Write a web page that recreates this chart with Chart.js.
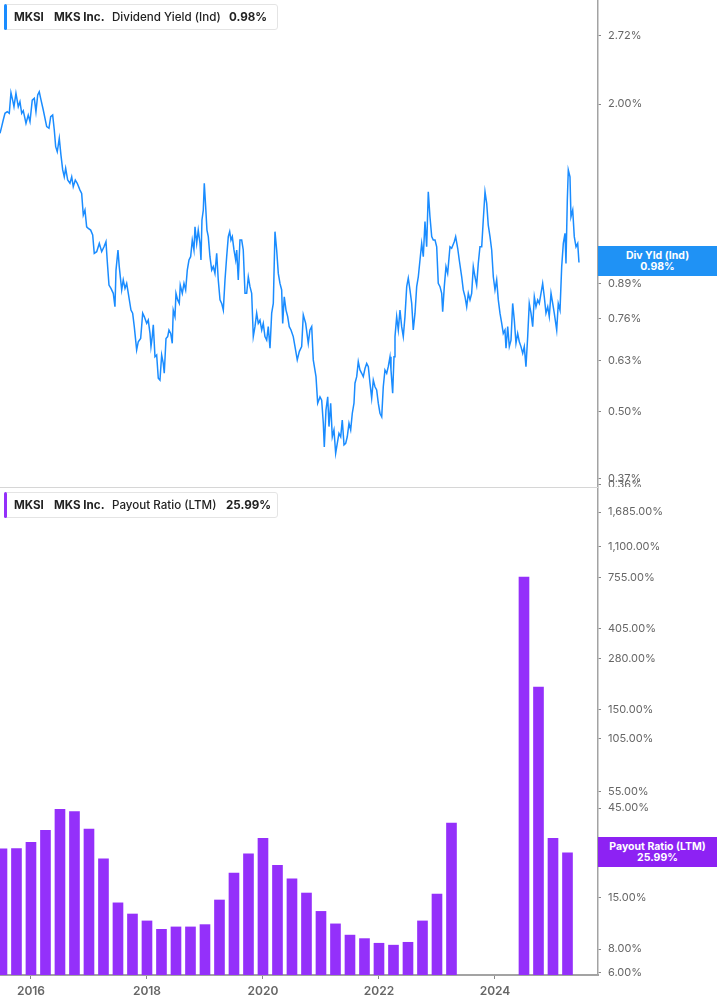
<!DOCTYPE html>
<html>
<head>
<meta charset="utf-8">
<title>MKSI dividend yield and payout ratio</title>
<script src="https://cdn.jsdelivr.net/npm/chart.js@4.4.1/dist/chart.umd.min.js"></script>
<style>
  body { margin: 0; background: #fff; font-family: Inter, "Noto Sans", sans-serif; }
  #wrap { position: relative; width: 717px; height: 1005px; overflow: hidden; }
  canvas { position: absolute; left: 0; }
  .legend { position: absolute; left: 4px; width: 274px; height: 26px; box-sizing: border-box;
            border: 1px solid #e4e4e4; border-radius: 3px; background: #fff; font-size: 11.6px; color: #222; }
  .legend .mark { position: absolute; left: -1px; top: -1px; bottom: -1px; width: 3px; border-radius: 2px; }
  .legend span { position: absolute; top: 5px; white-space: nowrap; line-height: 14px; }
  .legend .b { font-weight: 700; }
  .legend .m { font-weight: 500; }
  .tag { position: absolute; left: 598px; width: 119px; height: 30px; box-sizing: border-box; padding-top: 4px;
         color: #fff; font-weight: 700; font-size: 10.5px; line-height: 11px; text-align: center; }
  .divider { position: absolute; left: 0; top: 487px; width: 598px; height: 1px; background: #d6d6d6; }
</style>
</head>
<body>
<div id="wrap">
  <canvas id="yieldChart" width="717" height="487" style="top:0"></canvas>
  <canvas id="payoutChart" width="717" height="518" style="top:487px"></canvas>
  <div class="divider"></div>

  <div class="legend" style="top:4px">
    <div class="mark" style="background:#1a8cff"></div>
    <span class="b" style="left:9px">MKSI</span>
    <span class="b" style="left:49px">MKS Inc.</span>
    <span class="m" style="left:107px">Dividend Yield (Ind)</span>
    <span class="b" style="left:224px">0.98%</span>
  </div>
  <div class="legend" style="top:492px">
    <div class="mark" style="background:#9430fa"></div>
    <span class="b" style="left:9px">MKSI</span>
    <span class="b" style="left:49px">MKS Inc.</span>
    <span class="m" style="left:107px">Payout Ratio (LTM)</span>
    <span class="b" style="left:221px">25.99%</span>
  </div>

  <div class="tag" style="top:246px;background:#1f92f5">Div Yld (Ind)<br>0.98%</div>
  <div class="tag" style="top:837px;background:#8d22f3">Payout Ratio (LTM)<br>25.99%</div>
</div>

<script>
// dividend yield (ind), %
const yieldDates = [
  2015.466, 2015.495, 2015.522, 2015.552, 2015.591, 2015.626, 2015.655, 2015.684, 2015.707, 2015.741,
  2015.781, 2015.810, 2015.840, 2015.867, 2015.914, 2015.953, 2015.983, 2016.022, 2016.057, 2016.086,
  2016.116, 2016.143, 2016.167, 2016.212, 2016.271, 2016.310, 2016.340, 2016.374, 2016.402, 2016.426,
  2016.453, 2016.488, 2016.517, 2016.547, 2016.574, 2016.598, 2016.633, 2016.672, 2016.702, 2016.729,
  2016.764, 2016.798, 2016.845, 2016.874, 2016.902, 2016.931, 2016.960, 2016.988, 2017.029, 2017.064,
  2017.091, 2017.133, 2017.178, 2017.219, 2017.259, 2017.293, 2017.316, 2017.345, 2017.379, 2017.419,
  2017.448, 2017.466, 2017.500, 2017.522, 2017.564, 2017.591, 2017.621, 2017.650, 2017.678, 2017.724,
  2017.753, 2017.781, 2017.822, 2017.850, 2017.891, 2017.926, 2017.953, 2017.995, 2018.022, 2018.052,
  2018.069, 2018.091, 2018.109, 2018.138, 2018.167, 2018.195, 2018.224, 2018.253, 2018.281, 2018.298,
  2018.328, 2018.357, 2018.379, 2018.409, 2018.436, 2018.453, 2018.483, 2018.500, 2018.529, 2018.557,
  2018.574, 2018.609, 2018.638, 2018.667, 2018.695, 2018.724, 2018.753, 2018.781, 2018.810, 2018.828,
  2018.857, 2018.884, 2018.914, 2018.931, 2018.948, 2018.971, 2018.988, 2019.012, 2019.034, 2019.057,
  2019.086, 2019.116, 2019.143, 2019.172, 2019.202, 2019.229, 2019.259, 2019.288, 2019.316, 2019.345,
  2019.374, 2019.402, 2019.426, 2019.448, 2019.471, 2019.500, 2019.529, 2019.547, 2019.574, 2019.603,
  2019.633, 2019.660, 2019.690, 2019.719, 2019.747, 2019.776, 2019.805, 2019.833, 2019.862, 2019.891,
  2019.919, 2019.948, 2019.978, 2020.005, 2020.034, 2020.064, 2020.091, 2020.121, 2020.150, 2020.178,
  2020.207, 2020.236, 2020.264, 2020.293, 2020.322, 2020.340, 2020.367, 2020.397, 2020.426, 2020.453,
  2020.483, 2020.522, 2020.552, 2020.591, 2020.626, 2020.667, 2020.695, 2020.736, 2020.781, 2020.810,
  2020.840, 2020.867, 2020.914, 2020.943, 2020.983, 2021.012, 2021.040, 2021.057, 2021.086, 2021.116,
  2021.138, 2021.167, 2021.195, 2021.224, 2021.253, 2021.281, 2021.310, 2021.340, 2021.367, 2021.397,
  2021.426, 2021.453, 2021.483, 2021.512, 2021.540, 2021.569, 2021.586, 2021.616, 2021.643, 2021.672,
  2021.702, 2021.729, 2021.759, 2021.788, 2021.816, 2021.845, 2021.874, 2021.902, 2021.931, 2021.960,
  2021.988, 2022.017, 2022.047, 2022.074, 2022.103, 2022.133, 2022.160, 2022.190, 2022.207, 2022.236,
  2022.259, 2022.276, 2022.305, 2022.333, 2022.362, 2022.391, 2022.419, 2022.448, 2022.478, 2022.505,
  2022.534, 2022.564, 2022.591, 2022.621, 2022.650, 2022.678, 2022.707, 2022.736, 2022.764, 2022.793,
  2022.822, 2022.850, 2022.879, 2022.909, 2022.936, 2022.966, 2022.995, 2023.022, 2023.052, 2023.081,
  2023.098, 2023.126, 2023.155, 2023.184, 2023.224, 2023.253, 2023.298, 2023.322, 2023.357, 2023.384,
  2023.426, 2023.453, 2023.483, 2023.512, 2023.540, 2023.569, 2023.598, 2023.626, 2023.655, 2023.684,
  2023.712, 2023.741, 2023.771, 2023.798, 2023.828, 2023.857, 2023.884, 2023.914, 2023.943, 2023.971,
  2024.000, 2024.029, 2024.057, 2024.086, 2024.116, 2024.143, 2024.172, 2024.190, 2024.219, 2024.247,
  2024.276, 2024.305, 2024.333, 2024.362, 2024.391, 2024.419, 2024.448, 2024.478, 2024.505, 2024.534,
  2024.564, 2024.591, 2024.621, 2024.650, 2024.678, 2024.707, 2024.736, 2024.764, 2024.793, 2024.822,
  2024.850, 2024.879, 2024.909, 2024.936, 2024.966, 2024.995, 2025.022, 2025.064, 2025.091, 2025.121,
  2025.150, 2025.178, 2025.207, 2025.224, 2025.247, 2025.264, 2025.293, 2025.310, 2025.340, 2025.367,
  2025.397, 2025.426, 2025.448
];
const yieldValues = [
  1.754, 1.807, 1.862, 1.919, 1.933, 1.919, 2.106, 2.037, 1.977, 2.100,
  1.977, 2.022, 1.919, 1.942, 1.835, 1.904, 1.848, 2.037, 2.053, 1.933,
  2.084, 2.115, 2.053, 1.948, 1.807, 1.794, 1.890, 1.904, 1.780, 1.651,
  1.614, 1.715, 1.590, 1.487, 1.442, 1.498, 1.421, 1.400, 1.442, 1.379,
  1.421, 1.400, 1.358, 1.338, 1.214, 1.241, 1.151, 1.143, 1.134, 1.109,
  1.021, 1.029, 1.068, 1.029, 1.052, 1.076, 0.983, 0.885, 0.872, 0.853,
  0.803, 0.947, 1.037, 0.962, 0.866, 0.906, 0.872, 0.892, 0.853, 0.791,
  0.780, 0.734, 0.661, 0.686, 0.696, 0.780, 0.768, 0.745, 0.756, 0.712,
  0.671, 0.702, 0.740, 0.641, 0.646, 0.582, 0.577, 0.646, 0.622, 0.595,
  0.696, 0.702, 0.723, 0.712, 0.681, 0.791, 0.768, 0.853, 0.828, 0.815,
  0.885, 0.853, 0.892, 0.866, 0.947, 0.991, 1.006, 1.084, 1.037, 1.151,
  1.068, 1.134, 1.068, 0.991, 1.187, 1.241, 1.400, 1.260, 1.134, 1.101,
  1.006, 0.947, 0.962, 0.933, 1.021, 0.906, 0.828, 0.815, 0.791, 0.906,
  1.006, 1.101, 1.126, 1.084, 1.101, 1.037, 0.991, 1.037, 0.906, 1.084,
  1.084, 1.037, 0.853, 0.853, 0.919, 0.879, 0.853, 0.702, 0.734, 0.780,
  0.745, 0.756, 0.723, 0.745, 0.702, 0.691, 0.734, 0.666, 0.780, 0.815,
  1.126, 1.037, 0.933, 0.892, 0.866, 0.745, 0.840, 0.791, 0.768, 0.734,
  0.723, 0.702, 0.671, 0.632, 0.656, 0.671, 0.774, 0.745, 0.681, 0.723,
  0.734, 0.632, 0.586, 0.520, 0.535, 0.527, 0.475, 0.427, 0.504, 0.535,
  0.468, 0.520, 0.447, 0.461, 0.415, 0.434, 0.454, 0.447, 0.482, 0.431,
  0.434, 0.447, 0.475, 0.461, 0.497, 0.520, 0.569, 0.586, 0.627, 0.604,
  0.595, 0.586, 0.608, 0.622, 0.613, 0.569, 0.532, 0.577, 0.560, 0.552,
  0.520, 0.497, 0.489, 0.560, 0.604, 0.595, 0.613, 0.641, 0.604, 0.544,
  0.641, 0.702, 0.768, 0.723, 0.791, 0.734, 0.702, 0.768, 0.879, 0.913,
  0.866, 0.815, 0.723, 0.780, 0.879, 0.919, 0.991, 1.068, 1.006, 1.178,
  1.052, 1.348, 1.204, 1.101, 1.084, 1.084, 1.052, 0.892, 0.879, 0.853,
  0.785, 0.879, 0.962, 0.933, 1.052, 1.045, 1.076, 1.101, 1.045, 0.991,
  0.919, 0.866, 0.840, 0.803, 0.853, 0.828, 0.853, 0.962, 0.919, 0.885,
  0.976, 1.052, 1.052, 1.187, 1.348, 1.279, 1.160, 1.101, 1.037, 0.919,
  0.866, 0.906, 0.828, 0.780, 0.745, 0.712, 0.723, 0.666, 0.734, 0.671,
  0.691, 0.815, 0.756, 0.681, 0.712, 0.686, 0.671, 0.651, 0.671, 0.613,
  0.702, 0.815, 0.780, 0.734, 0.840, 0.803, 0.828, 0.815, 0.853, 0.892,
  0.840, 0.780, 0.803, 0.768, 0.853, 0.815, 0.780, 0.723, 0.815, 0.791,
  0.962, 1.068, 1.118, 0.976, 1.299, 1.487, 1.442, 1.204, 1.241, 1.101,
  1.052, 1.068, 0.980
];
const yieldTicks = [0.36, 0.37, 0.50, 0.63, 0.76, 0.89, 1.00, 2.00, 2.72];

// payout ratio (LTM), % by quarter end; null = no value shown
const payoutDates = [
  2015.50, 2015.75, 2016.00, 2016.25, 2016.50, 2016.75, 2017.00, 2017.25, 2017.50, 2017.75,
  2018.00, 2018.25, 2018.50, 2018.75, 2019.00, 2019.25, 2019.50, 2019.75, 2020.00, 2020.25,
  2020.50, 2020.75, 2021.00, 2021.25, 2021.50, 2021.75, 2022.00, 2022.25, 2022.50, 2022.75,
  2023.00, 2023.25, 2023.50, 2023.75, 2024.00, 2024.25, 2024.50, 2024.75, 2025.00, 2025.25
];
const payoutValues = [
  27.3, 27.4, 29.6, 34.3, 44.3, 43.1, 34.8, 24.2, 14.1, 12.3,
  11.3, 10.2, 10.5, 10.5, 10.8, 14.6, 20.3, 25.7, 31.1, 22.3,
  18.9, 15.9, 12.7, 10.9, 9.5, 9.1, 8.6, 8.4, 8.7, 11.3,
  15.7, 37.4, null, null, null, null, 760, 198, 31.1, 25.99
];
const payoutTicks = [6, 8, 15, 25, 45, 55, 105, 150, 280, 405, 755, 1100, 1685];

const yearTicks = [2016, 2018, 2020, 2022, 2024];
const xMin = 2015.466;
const xMax = 2025.776;

const axisGrey = '#a3a3a3';
const labelGrey = '#666';

function fixRightAxis(scale) {
  scale.width = 119;
  scale.paddingTop = 0;
  scale.paddingBottom = 0;
}

function rightAxis(min, max, tickValues, fmt) {
  return {
    type: 'logarithmic',
    position: 'right',
    min: min,
    max: max,
    afterBuildTicks: s => { s.ticks = tickValues.map(v => ({ value: v })); },
    afterFit: fixRightAxis,
    border: { display: true, color: axisGrey, width: 1.5 },
    grid: { drawOnChartArea: false, offset: false, tickLength: 3, tickColor: '#888', tickWidth: 1 },
    ticks: {
      autoSkip: false,
      padding: 7,
      color: labelGrey,
      font: { family: 'Inter', size: 11 },
      callback: fmt
    }
  };
}

new Chart(document.getElementById('yieldChart'), {
  type: 'line',
  data: {
    datasets: [{
      data: yieldDates.map((d, i) => ({ x: d, y: yieldValues[i] })),
      borderColor: '#1a8cff',
      borderWidth: 1.5,
      pointRadius: 0,
      tension: 0
    }]
  },
  options: {
    responsive: false,
    animation: false,
    layout: { padding: 0 },
    plugins: { legend: { display: false }, tooltip: { enabled: false } },
    scales: {
      x: { type: 'linear', min: xMin, max: xMax, display: false },
      y: rightAxis(0.3565, 3.197, yieldTicks, v => v.toFixed(2) + '%')
    }
  }
});

new Chart(document.getElementById('payoutChart'), {
  type: 'bar',
  data: {
    datasets: [{
      data: payoutDates.map((d, i) => ({ x: d, y: payoutValues[i] })),
      backgroundColor: '#9430fa',
      barThickness: 10
    }]
  },
  options: {
    responsive: false,
    animation: false,
    layout: { padding: 0 },
    plugins: { legend: { display: false }, tooltip: { enabled: false } },
    scales: {
      x: {
        type: 'linear',
        min: xMin,
        max: xMax,
        offset: false,
        afterBuildTicks: s => { s.ticks = yearTicks.map(v => ({ value: v })); },
        afterFit: s => { s.height = 30; s.paddingLeft = 0; s.paddingRight = 0; },
        border: { display: true, color: axisGrey, width: 2 },
        grid: { drawOnChartArea: false, offset: false, tickLength: 4, tickColor: '#888' },
        ticks: {
          autoSkip: false,
          maxRotation: 0,
          padding: 5,
          color: labelGrey,
          font: { family: 'Inter', size: 12, weight: '600' },
          callback: v => String(v)
        }
      },
      y: rightAxis(5.83, 2290, payoutTicks,
        v => v.toLocaleString('en-US', { minimumFractionDigits: 2, maximumFractionDigits: 2 }) + '%')
    }
  }
});
</script>
</body>
</html>
